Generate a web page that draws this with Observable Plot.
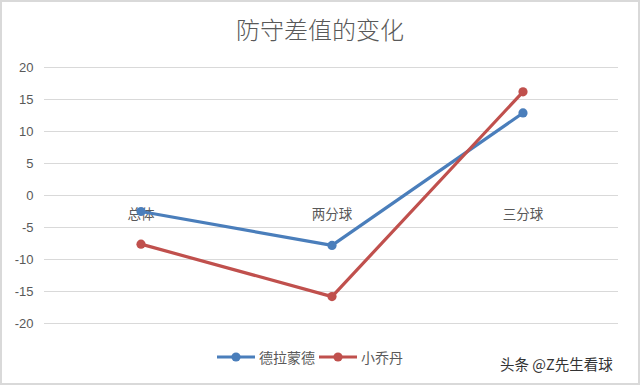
<!DOCTYPE html>
<html><head><meta charset="utf-8">
<script src="https://cdn.jsdelivr.net/npm/d3@7"></script>
<script src="https://cdn.jsdelivr.net/npm/@observablehq/plot@0.6"></script>
<style>
html,body{margin:0;padding:0;background:#fff;}
#wrap{position:relative;width:640px;height:385px;overflow:hidden;font-family:"Noto Sans CJK SC","Liberation Sans",sans-serif;}
#frame{position:absolute;left:0;top:0;width:636px;height:381px;border:2px solid #d9d9d9;pointer-events:none;}
#title{position:absolute;left:0;width:640px;top:11px;text-align:center;font-size:24px;font-weight:300;color:#595959;}
#chart{position:absolute;left:0;top:0;}
#legend{position:absolute;top:347px;left:217px;font-size:14px;color:#595959;display:flex;align-items:center;}
#legend .item{display:flex;align-items:center;margin-right:4px;}
#legend svg{margin-right:4px;}
#wm{position:absolute;left:500px;top:353px;font-size:14.5px;color:#333;}
</style></head>
<body>
<div id="wrap">
  <div id="chart"></div>
  <div id="title">防守差值的变化</div>
  <div id="legend"></div>
  <div id="wm">头条 @Z先生看球</div>
  <div id="frame"></div>
</div>
<script>
const categories = ["总体", "两分球", "三分球"];
const seriesNames = ["德拉蒙德", "小乔丹"];
const drummond = [-2.5, -7.8, 12.9];
const deandre = [-7.6, -15.8, 16.2];
const yTicks = [-20, -15, -10, -5, 0, 5, 10, 15, 20];
const colors = ["#4A7EBB", "#C0504D"];

const rows = [];
categories.forEach((c, i) => {
  rows.push({cat: c, series: seriesNames[0], v: drummond[i]});
  rows.push({cat: c, series: seriesNames[1], v: deandre[i]});
});

const plot = Plot.plot({
  width: 640,
  height: 385,
  marginTop: 67,
  marginBottom: 62,
  marginLeft: 44,
  marginRight: 22,
  style: {fontFamily: "'Liberation Sans', 'Noto Sans CJK SC', sans-serif", background: "transparent"},
  x: {type: "band", domain: categories, padding: 0, axis: null},
  y: {domain: [-20, 20], ticks: yTicks, axis: null},
  color: {domain: seriesNames, range: colors},
  marks: [
    Plot.gridY(yTicks, {stroke: "#d9d9d9", strokeOpacity: 1, strokeWidth: 1}),
    Plot.axisY(yTicks, {tickSize: 0, tickPadding: 11, fontSize: 13, fill: "#595959", label: null, tickFormat: d => String(d)}),
    Plot.text(categories, {x: d => d, y: () => 0, dy: 19, text: d => d, fill: "#595959", fontSize: 13.5, fontFamily: "'Noto Sans CJK SC', sans-serif"}),
    Plot.line(rows, {x: "cat", y: "v", z: "series", stroke: "series", strokeWidth: 3.2}),
    Plot.dot(rows, {x: "cat", y: "v", fill: "series", r: 4.6})
  ]
});
document.getElementById("chart").appendChild(plot);

const leg = document.getElementById("legend");
seriesNames.forEach((n, i) => {
  const it = document.createElement("div");
  it.className = "item";
  it.innerHTML = `<svg width="38" height="12"><line x1="0" y1="6" x2="38" y2="6" stroke="${colors[i]}" stroke-width="3.2"/><circle cx="19" cy="6" r="4.6" fill="${colors[i]}"/></svg><span>${n}</span>`;
  leg.appendChild(it);
});
</script>
</body></html>
